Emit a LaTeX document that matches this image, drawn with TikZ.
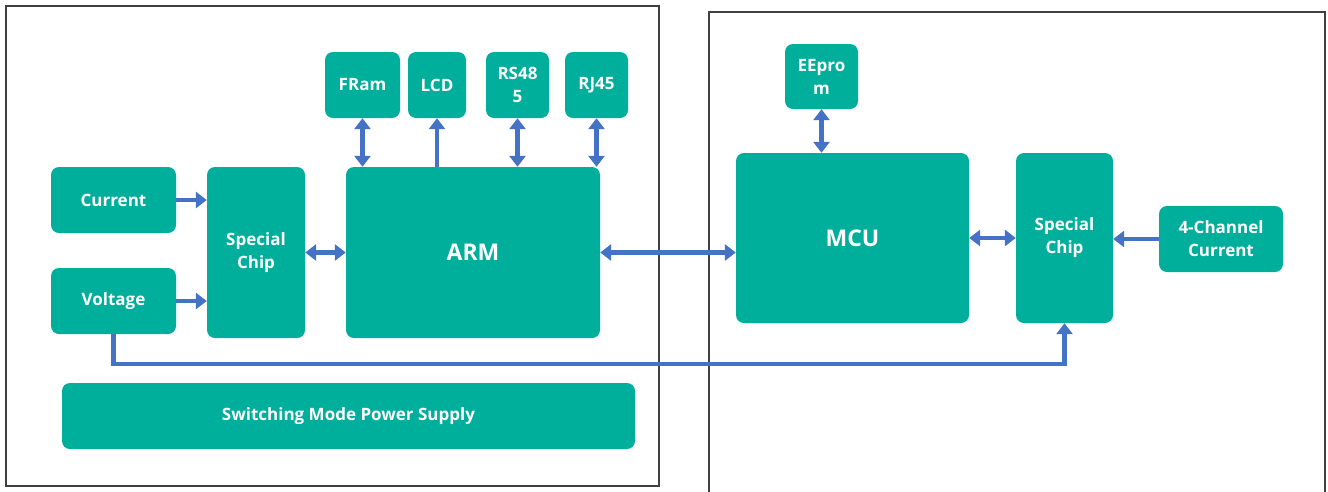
\documentclass[tikz,border=0pt]{standalone}
\usepackage{fontspec}
\setmainfont{Open Sans}
\usetikzlibrary{arrows.meta}
\definecolor{blockfill}{HTML}{00AE9C}
\definecolor{linkblue}{HTML}{4472C4}
\definecolor{framegray}{HTML}{404040}
\begin{document}
\begin{tikzpicture}[x=1pt,y=-1pt,
  block/.style={fill=blockfill, rounded corners=8pt, text=white, align=center,
    font=\fontsize{17}{23}\selectfont\bfseries, inner sep=0pt},
  bigblock/.style={block, font=\fontsize{23}{27}\selectfont\bfseries},
  link/.style={draw=linkblue, line width=4.6pt,
    arrows={-Triangle[width=16pt,length=11pt]}},
  duplex/.style={link, arrows={Triangle[width=16pt,length=11pt]-Triangle[width=16pt,length=11pt]}},
  frame/.style={draw=framegray, line width=1.1pt}]
\useasboundingbox (0,0) rectangle (1328,491);

% outer frames of the two boards
\draw[frame] (6,6) rectangle (659,486);
\draw[frame] (709,500) -- (709,12) -- (1325,12) -- (1325,500);

% left board
\node[block, minimum width=125pt, minimum height=66pt] (cur)  at (113.5,200) {Current};
\node[block, minimum width=125pt, minimum height=66pt] (volt) at (113.5,301) {Voltage};
\node[block, minimum width=98pt, minimum height=171pt] (sc1)  at (256,252.5) {Special\\Chip};
\node[bigblock, minimum width=254pt, minimum height=171pt] (arm) at (473,252.5) {ARM};
\node[block, minimum width=75pt, minimum height=66pt] (fram) at (362.5,85) {FRam};
\node[block, minimum width=58pt, minimum height=66pt] (lcd)  at (437,85) {LCD};
\node[block, minimum width=63pt, minimum height=66pt] (rs)   at (517.5,85) {RS48\\5};
\node[block, minimum width=63pt, minimum height=66pt] (rj)   at (596.5,85) {RJ45};
\node[block, minimum width=573pt, minimum height=66pt] (smps) at (348.5,416) {Switching Mode Power Supply};

% right board
\node[block, minimum width=73pt, minimum height=65pt] (eep) at (821.5,76.5) {EEpro\\m};
\node[bigblock, minimum width=233pt, minimum height=170pt] (mcu) at (852.5,238) {MCU};
\node[block, minimum width=97pt, minimum height=170pt] (sc2) at (1064.5,238) {Special\\Chip};
\node[block, minimum width=124pt, minimum height=66pt] (ch4) at (1221,239) {4-Channel\\Current};

\coordinate (bus) at (0,364);

% connections
\draw[link] (cur.east) -- (cur.east -| sc1.west);
\draw[link] (volt.east) -- (volt.east -| sc1.west);
\draw[duplex] (sc1.east) -- (arm.west);
\draw[duplex] (fram.south) -- (fram.south |- arm.north);
\draw[link] (lcd.south |- arm.north) -- (lcd.south);
\draw[duplex] (rs.south) -- (rs.south |- arm.north);
\draw[duplex] (rj.south) -- (rj.south |- arm.north);
\draw[duplex] (arm.east) -- (arm.east -| mcu.west);
\draw[duplex] (eep.south) -- (eep.south |- mcu.north);
\draw[duplex] (mcu.east) -- (mcu.east -| sc2.west);
\draw[link] (ch4.west) -- (ch4.west -| sc2.east);
\draw[link] (volt.south) -- (volt.south |- bus) -| (sc2.south);
\end{tikzpicture}
\end{document}
